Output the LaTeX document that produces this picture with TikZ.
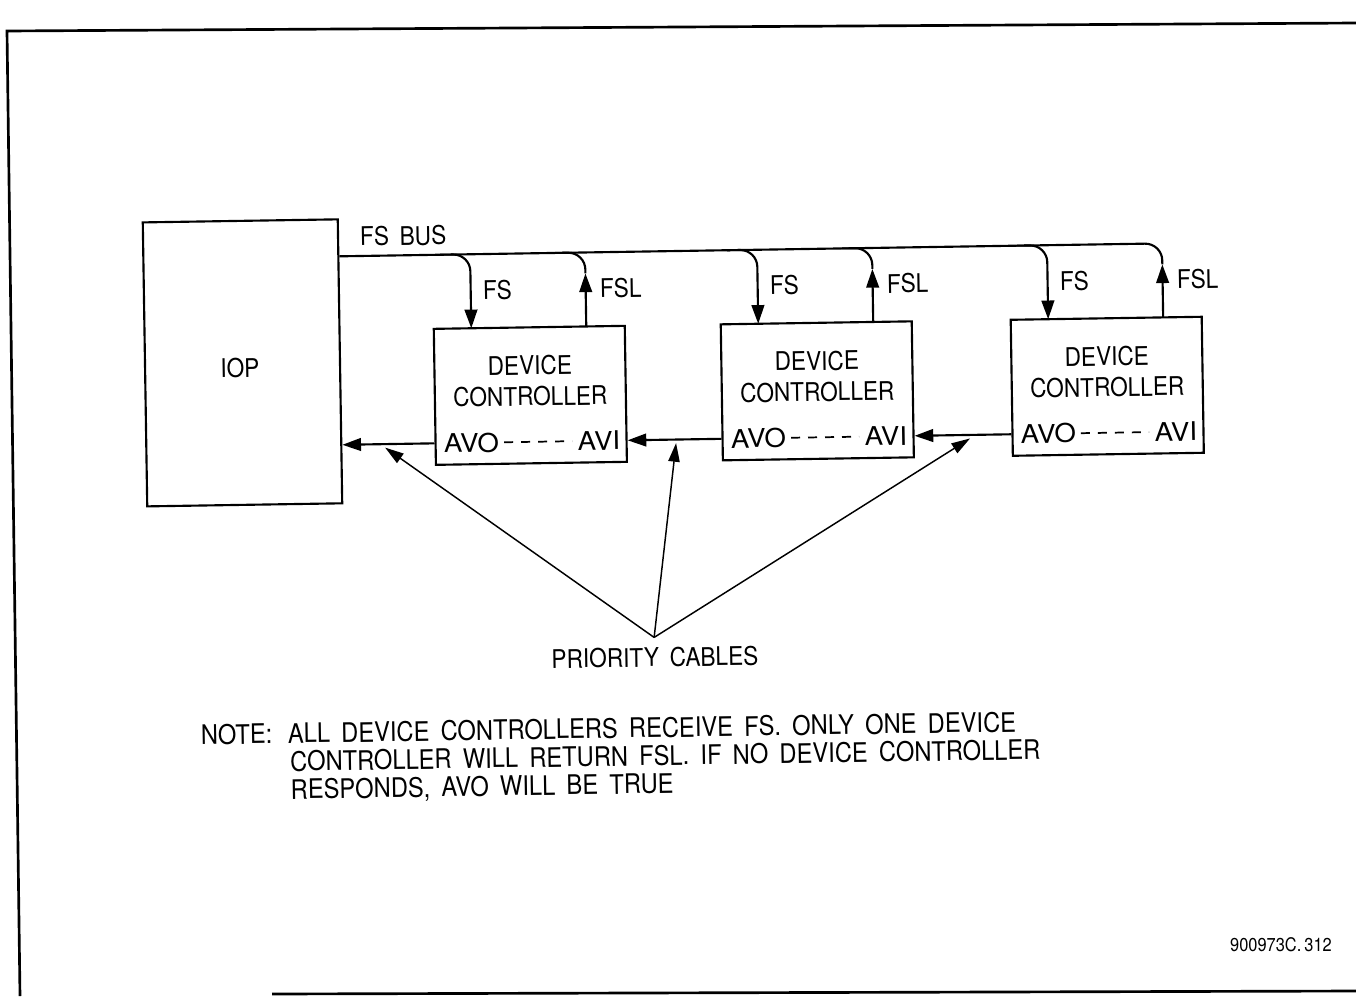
\documentclass[tikz,border=0pt]{standalone}
\usepackage{fontspec}
\setmainfont[FakeStretch=0.88,WordSpace=1.7]{TeX Gyre Heros}
\usetikzlibrary{arrows.meta}
\begin{document}
\begin{tikzpicture}[x=0.75pt,y=-0.75pt,
  lbl/.style={inner sep=0pt, font=\fontsize{19.3}{20.25}\selectfont},
  notelbl/.style={inner sep=0pt, anchor=base west, font=\fontsize{20.2}{21}\selectfont},
  avlbl/.style={inner sep=0pt, xscale=1.22, font=\fontsize{19.3}{20.25}\selectfont},
  box/.style={draw, line width=1.6pt, inner sep=0pt},
  wire/.style={line width=1.6pt},
  sig/.style={line width=1.6pt, -{Triangle[length=14pt,width=9.5pt]}},
  pri/.style={line width=1.1pt, -{Triangle[length=14pt,width=8.5pt]}},
  dashline/.style={line width=1.3pt, dash pattern=on 6.75pt off 6pt},
  frame/.style={line width=2pt}]
\useasboundingbox (0,0) rectangle (1356,996);
% page frame
\draw[frame] (20,996) -- (7,31) -- (1356,23);
\draw[frame] (272,994) -- (1356,991);
\node[inner sep=0pt, font=\fontsize{14}{16}\selectfont] (ref) at (1281,945) {900973C.\,312};
\begin{scope}[rotate around={0.9:(680,500)}, transform shape]
  \node[box, minimum width=146.25pt, minimum height=213pt] (iop) at (244.7,356) {};
  \node[lbl] (iopl) at (242,361) {IOP};
  \coordinate (busy) at (0,251);
  \node[lbl, anchor=west] (fsbus) at (364,231.6) {FS BUS};
  \foreach \i/\cx in {1/532,2/819,3/1109} {
    \node[box, minimum width=143.25pt, minimum height=102pt] (dc\i) at (\cx,393) {};
    \node[lbl] (dev\i) at (\cx,363) {DEVICE};
    \node[lbl] (con\i) at (\cx,394) {CONTROLLER};
    \node[avlbl, anchor=west] (avo\i) at (\cx-87.5,439.5) {AVO};
    \node[avlbl, anchor=east] (avi\i) at (\cx+89.5,439.5) {AVI};
    \draw[dashline] ([xshift=3.5pt]avo\i.east) -- ([xshift=-4pt]avi\i.west);
    \coordinate (fsa\i) at (\cx-88,251);
    \coordinate (fsb\i) at (\cx-58,325);
    \coordinate (fslb\i) at (\cx+57,325);
    \coordinate (fslt\i) at (\cx+57,272);
    \coordinate (fslc\i) at (\cx+27,251);
    \draw[sig, rounded corners=12.75pt] (fsa\i) -- (fsa\i -| fsb\i) -- (fsb\i);
    \draw[sig] (fslb\i) -- (fslt\i);
    \node[lbl, anchor=west] (fsl\i) at (\cx-46,287) {FS};
    \node[lbl, anchor=west] (fsll\i) at (\cx+71,287) {FSL};
  }
  \draw[wire, rounded corners=12.75pt] (iop.east |- busy) -- (fslt3 |- busy) -- (fslt3);
  \draw[wire, rounded corners=12.75pt] (fslt1) -- (fslt1 |- busy) -- (fslc1);
  \draw[wire, rounded corners=12.75pt] (fslt2) -- (fslt2 |- busy) -- (fslc2);
  \draw[sig] (avo1.west -| dc1.west) -- (avo1.west -| iop.east);
  \draw[sig] (avo2.west -| dc2.west) -- (avo2.west -| dc1.east);
  \draw[sig] (avo3.west -| dc3.west) -- (avo3.west -| dc2.east);
  \coordinate (pc) at (652,637);
  \coordinate (t1) at (386,443);
  \coordinate (t2) at (677,443);
  \coordinate (t3) at (971,443);
  \draw[pri] (pc) -- (t1);
  \draw[pri] (pc) -- (t2);
  \draw[pri] (pc) -- (t3);
  \node[lbl] (pcl) at (652.5,657) {PRIORITY CABLES};
  \node[notelbl] (note) at (197,737) {NOTE:};
  \node[notelbl] (n1) at (284,737) {ALL DEVICE CONTROLLERS RECEIVE FS. ONLY ONE DEVICE};
  \node[notelbl] (n2) at (286,765) {CONTROLLER WILL RETURN FSL. IF NO DEVICE CONTROLLER};
  \node[notelbl] (n3) at (286,793) {RESPONDS, AVO WILL BE TRUE};
\end{scope}
\end{tikzpicture}
\end{document}
